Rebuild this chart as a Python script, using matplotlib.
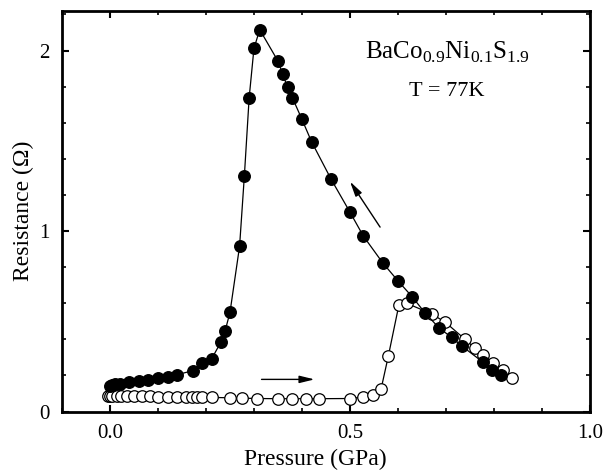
import matplotlib
matplotlib.use('Agg')
import matplotlib.pyplot as plt
from matplotlib.ticker import MultipleLocator

plt.rcParams['font.family'] = ['Liberation Serif', 'DejaVu Serif']
plt.rcParams['mathtext.fontset'] = 'custom'
plt.rcParams['mathtext.rm'] = 'Liberation Serif'

# pressure release (filled circles)
down_p = [0.000, 0.005, 0.010, 0.020, 0.040, 0.060, 0.080, 0.100, 0.120, 0.140,
          0.172, 0.191, 0.212, 0.231, 0.240, 0.250, 0.270, 0.280, 0.290, 0.300,
          0.312, 0.350, 0.360, 0.370, 0.380, 0.400, 0.420, 0.461, 0.500, 0.528,
          0.568, 0.600, 0.630, 0.656, 0.686, 0.712, 0.733, 0.777, 0.796, 0.814]
down_r = [0.140, 0.146, 0.150, 0.155, 0.163, 0.170, 0.177, 0.184, 0.190, 0.204,
          0.226, 0.270, 0.293, 0.384, 0.448, 0.549, 0.915, 1.306, 1.739, 2.012,
          2.116, 1.942, 1.870, 1.796, 1.739, 1.619, 1.495, 1.286, 1.105, 0.972,
          0.825, 0.724, 0.635, 0.548, 0.462, 0.411, 0.363, 0.274, 0.232, 0.204]

# pressure increase (open circles)
up_p = [-0.004, 0.000, 0.005, 0.014, 0.022, 0.035, 0.051, 0.067, 0.083, 0.101,
        0.120, 0.139, 0.159, 0.170, 0.181, 0.191, 0.212, 0.251, 0.276, 0.307,
        0.350, 0.380, 0.409, 0.436, 0.500, 0.527, 0.548, 0.565, 0.580, 0.602,
        0.619, 0.671, 0.699, 0.739, 0.760, 0.778, 0.798, 0.819, 0.838]
up_r = [0.086, 0.086, 0.086, 0.086, 0.085, 0.085, 0.085, 0.084, 0.084, 0.083,
        0.082, 0.082, 0.081, 0.080, 0.080, 0.079, 0.078, 0.076, 0.074, 0.072,
        0.071, 0.071, 0.071, 0.071, 0.072, 0.080, 0.091, 0.126, 0.307, 0.590,
        0.599, 0.540, 0.494, 0.402, 0.352, 0.315, 0.270, 0.232, 0.184]

fig = plt.figure(figsize=(6.05, 4.73), dpi=100)
ax = fig.add_axes([0.1025, 0.130, 0.8725, 0.847])

ax.plot(up_p, up_r, '-', color='black', lw=0.9, marker='o', ms=8.3,
        mfc='white', mec='black', mew=0.9, zorder=2)
ax.plot(down_p, down_r, '-', color='black', lw=0.9, marker='o', ms=8.3,
        mfc='black', mec='black', zorder=3)

# arrows
ax.annotate('', xy=(0.432, 0.178), xytext=(0.31, 0.178),
            arrowprops=dict(arrowstyle='-|>,head_length=0.9,head_width=0.22',
                            color='black', lw=1))
ax.annotate('', xy=(0.497, 1.287), xytext=(0.566, 1.009),
            arrowprops=dict(arrowstyle='-|>,head_length=0.9,head_width=0.22',
                            color='black', lw=1))

ax.text(0.704, 1.99, r'BaCo$_{0.9}$Ni$_{0.1}$S$_{1.9}$', fontsize=18,
        ha='center', va='center')
ax.text(0.702, 1.776, 'T = 77K', fontsize=16, ha='center', va='center')

ax.set_xlim(-0.1, 1.0)
ax.set_ylim(0, 2.22)
ax.xaxis.set_minor_locator(MultipleLocator(0.1))
ax.yaxis.set_minor_locator(MultipleLocator(0.2))
ax.set_xticks([0.0, 0.5, 1.0])
ax.set_xticklabels(['0.0', '0.5', '1.0'])
ax.set_yticks([0, 1, 2])
ax.set_yticklabels(['0', '1', '2'])
ax.tick_params(which='both', direction='in', top=True, right=True,
               labelsize=15, width=1.5)
ax.tick_params(which='major', length=5, pad=9)
ax.tick_params(which='minor', length=3, width=1.2)
for s in ax.spines.values():
    s.set_linewidth(2)

ax.set_xlabel('Pressure (GPa)', fontsize=17, labelpad=4)
ax.xaxis.label.set_x(0.48)
ax.set_ylabel('Resistance (\u03a9)', fontsize=17, labelpad=4)

plt.savefig('out.png', dpi=100)
